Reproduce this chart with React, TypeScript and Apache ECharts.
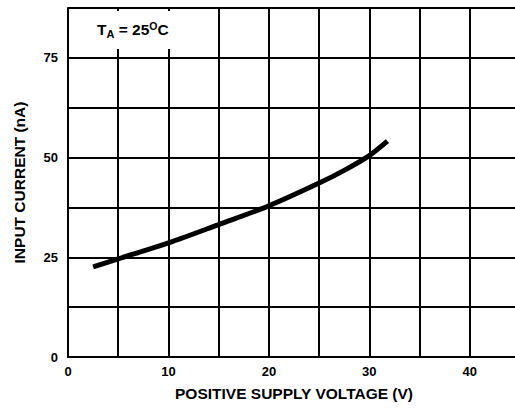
import React, { useEffect, useRef } from "react";
import * as echarts from "echarts";

const voltage = [2.5, 5, 10, 15, 20, 25, 27.5, 30, 31.8];
const inputCurrent = [22.6, 24.6, 28.6, 33.2, 37.9, 43.6, 46.8, 50.5, 54.1];
const xTickLabels = [0, 10, 20, 30, 40];
const yTickLabels = [0, 25, 50, 75];

const FONT = "'Liberation Sans', Arial, Helvetica, sans-serif";

export default function App() {
  const ref = useRef<HTMLDivElement>(null);
  useEffect(() => {
    if (!ref.current) return;
    const chart = echarts.init(ref.current, null, { renderer: "svg" });
    chart.setOption({
      animation: false,
      backgroundColor: "#ffffff",
      grid: {
        left: 68,
        top: 8,
        width: 452,
        height: 349,
        containLabel: false,
        outerBoundsMode: "none",
      },
      xAxis: {
        type: "value",
        min: 0,
        max: 45,
        interval: 5,
        name: "POSITIVE SUPPLY VOLTAGE (V)",
        nameLocation: "middle",
        nameGap: 28,
        nameTextStyle: { fontFamily: FONT, fontWeight: "bold", fontSize: 15.5, color: "#000" },
        axisLine: { show: true, lineStyle: { color: "#000", width: 2 } },
        axisTick: { show: false },
        axisLabel: {
          margin: 8,
          fontFamily: FONT,
          fontWeight: "bold",
          fontSize: 13,
          color: "#000",
          formatter: (v: number) => (xTickLabels.includes(v) ? String(v) : ""),
        },
        splitLine: { show: true, lineStyle: { color: "#000", width: 2 } },
      },
      yAxis: {
        type: "value",
        min: 0,
        max: 87.5,
        interval: 12.5,
        name: "INPUT CURRENT (nA)",
        nameLocation: "middle",
        nameGap: 41,
        nameTextStyle: { fontFamily: FONT, fontWeight: "bold", fontSize: 15.5, color: "#000" },
        axisLine: { show: true, lineStyle: { color: "#000", width: 2 } },
        axisTick: { show: false },
        axisLabel: {
          margin: 10,
          fontFamily: FONT,
          fontWeight: "bold",
          fontSize: 13,
          color: "#000",
          formatter: (v: number) => (yTickLabels.includes(v) ? String(v) : ""),
        },
        splitLine: { show: true, lineStyle: { color: "#000", width: 2 } },
      },
      graphic: [
        {
          type: "rect",
          z: 50,
          shape: { x: 88, y: 11, width: 92, height: 38 },
          style: { fill: "#ffffff" },
        },
        {
          type: "text",
          z: 51,
          x: 97,
          y: 39,
          style: {
            text: "T{sub|A} = 25{sup|O}C",
            fontFamily: FONT,
            fontWeight: "bold",
            fontSize: 15.5,
            fill: "#000",
            verticalAlign: "bottom",
            rich: {
              sub: { fontFamily: FONT, fontWeight: "bold", fontSize: 11, fill: "#000", padding: [7, 0, 0, 0], verticalAlign: "bottom" },
              sup: { fontFamily: FONT, fontWeight: "bold", fontSize: 10.5, fill: "#000", padding: [0, 0, 8, 0], verticalAlign: "top" },
            },
          },
        },
      ],
      series: [
        {
          type: "line",
          data: voltage.map((v, i) => [v, inputCurrent[i]]),
          smooth: 0.3,
          showSymbol: false,
          symbol: "none",
          z: 5,
          lineStyle: { color: "#000", width: 5, cap: "butt" },
        },
      ],
    });
    return () => chart.dispose();
  }, []);
  return (
    <div
      ref={ref}
      style={{ position: "fixed", left: 0, top: 0, width: 530, height: 409, background: "#fff" }}
    />
  );
}
